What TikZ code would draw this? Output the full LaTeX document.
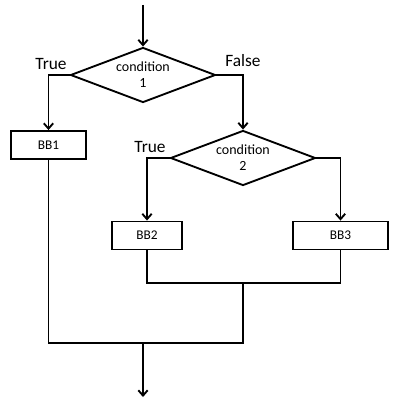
\documentclass[tikz,border=0pt]{standalone}
\usepackage{fontspec}
\setmainfont{Carlito}
\usetikzlibrary{arrows.meta,positioning,shapes.geometric}

\begin{document}
\begin{tikzpicture}[x=0.75pt,y=-0.75pt,>={Straight Barb[length=4pt,width=7pt]},line width=1.4pt,every node/.style={align=center}]
  \useasboundingbox (0,0) rectangle (395,402);
  \tikzset{
    cond/.style={draw,diamond,aspect=2.64,inner sep=0pt,minimum width=108.75pt,minimum height=41.25pt,font=\fontsize{10.5}{12}\selectfont},
    block/.style={draw,rectangle,minimum height=21pt,font=\fontsize{10}{12}\selectfont},
    branch/.style={font=\fontsize{13}{15}\selectfont}
  }
  \node[cond] (cond1) at (143,75) {condition\\1};
  \node[cond] (cond2) at (243,158) {condition\\2};
  \node[block,minimum width=56pt] (bb1) at (48.5,145) {BB1};
  \node[block,minimum width=52.5pt] (bb2) at (147,235.5) {BB2};
  \node[block,minimum width=71pt] (bb3) at (340.5,235.5) {BB3};
  \node[branch] (true1) at (51,64) {True};
  \node[branch] (false1) at (243,61) {False};
  \node[branch] (true2) at (150,147) {True};
  \coordinate (entry) at (143,5);
  \coordinate (merge2) at (243,283);
  \coordinate (merge1) at (143,343);
  \coordinate (exit) at (143,397);
  \draw[->] (entry) -- (cond1.north);
  \draw[->] (cond1.west) -| (bb1.north);
  \draw[->] (cond1.east) -| (cond2.north);
  \draw[->] (cond2.west) -| (bb2.north);
  \draw[->] (cond2.east) -| (bb3.north);
  \draw (bb2.south) |- (merge2) -| (bb3.south);
  \draw (merge2) |- (merge1) -| (bb1.south);
  \draw[->] (merge1) -- (exit);
\end{tikzpicture}
\end{document}
